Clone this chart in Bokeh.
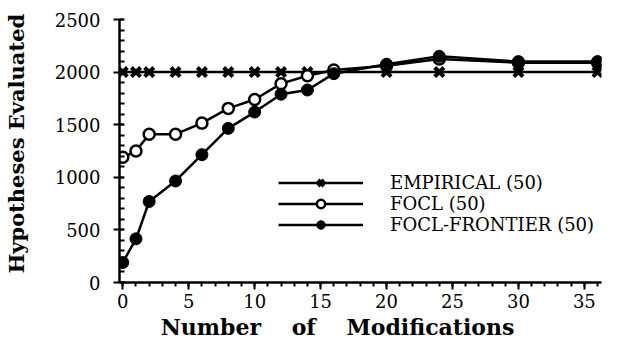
from bokeh.plotting import figure
from bokeh.models import Range1d, SingleIntervalTicker, Legend, LegendItem
from bokeh.embed import file_html
from bokeh.resources import INLINE

# data
emp_x = [0, 1, 2, 4, 6, 8, 10, 12, 14, 16, 20, 24, 30, 36]
emp_y = [2000, 2000, 2000, 2000, 2000, 2000, 2000, 2000, 2000, 2000, 2000, 2000, 2000, 2000]
focl_x = [0, 1, 2, 4, 6, 8, 10, 12, 14, 16, 20, 24, 30, 36]
focl_y = [1190, 1250, 1410, 1410, 1515, 1655, 1740, 1890, 1965, 2020, 2060, 2125, 2090, 2090]
fr_x = [0, 1, 2, 4, 6, 8, 10, 12, 14, 16, 20, 24, 30, 36]
fr_y = [190, 415, 770, 965, 1215, 1465, 1620, 1790, 1830, 1985, 2075, 2150, 2100, 2100]
labels = ["EMPIRICAL (50)", "FOCL (50)", "FOCL-FRONTIER (50)"]

SERIF = "DejaVu Serif"

p = figure(width=604, height=342, output_backend="svg", toolbar_location=None,
           x_range=Range1d(-0.25, 36.3), y_range=Range1d(0, 2500),
           min_border_left=119, min_border_right=3, min_border_top=19, min_border_bottom=59)
p.outline_line_color = None
p.grid.visible = False
p.background_fill_color = "white"
p.border_fill_color = "white"

p.xaxis.ticker = SingleIntervalTicker(interval=5, num_minor_ticks=5)
p.yaxis.ticker = SingleIntervalTicker(interval=500, num_minor_ticks=5)

for ax in (p.xaxis, p.yaxis):
    ax.axis_line_width = 2.5
    ax.axis_line_color = "black"
    ax.major_tick_line_width = 2
    ax.minor_tick_line_width = 2
    ax.major_tick_line_color = "black"
    ax.minor_tick_line_color = "black"
    ax.major_label_text_color = "black"
    ax.major_label_text_font = SERIF
    ax.major_label_text_font_size = "18px"
    ax.axis_label_text_font = SERIF
    ax.axis_label_text_font_style = "bold"
    ax.axis_label_text_color = "black"

p.xaxis.axis_label_text_font_size = "22px"
p.yaxis.axis_label_text_font_size = "21px"

p.xaxis.axis_label = "Number\u00a0\u00a0\u00a0 of\u00a0\u00a0\u00a0 Modifications\u00a0\u00a0\u00a0\u00a0\u00a0\u00a0"
p.yaxis.axis_label = "\u00a0\u00a0Hypotheses Evaluated"
p.xaxis.major_tick_out = 7
p.xaxis.major_tick_in = 0
p.xaxis.minor_tick_out = 4
p.xaxis.minor_tick_in = 0
p.xaxis.major_label_standoff = 4
p.xaxis.axis_label_standoff = 3
p.yaxis.major_tick_out = 6
p.yaxis.major_tick_in = 4
p.yaxis.minor_tick_out = 0
p.yaxis.minor_tick_in = 5
p.yaxis.major_label_standoff = 13
p.yaxis.axis_label_standoff = 23

l1 = p.line(emp_x, emp_y, line_color="black", line_width=2.5)
s1 = p.scatter(emp_x, emp_y, marker="x", size=13, line_color="black", line_width=4)
l2 = p.line(focl_x, focl_y, line_color="black", line_width=2.5)
s2 = p.scatter(focl_x, focl_y, marker="circle", size=11, line_color="black", line_width=2.5, fill_color="white")
l3 = p.line(fr_x, fr_y, line_color="black", line_width=2.5)
s3 = p.scatter(fr_x, fr_y, marker="circle", size=12, line_color="black", fill_color="black")

legend = Legend(items=[LegendItem(label=labels[0], renderers=[l1, s1]),
                       LegendItem(label=labels[1], renderers=[l2, s2]),
                       LegendItem(label=labels[2], renderers=[l3, s3])],
                location=(159, 47), glyph_width=85, glyph_height=21, label_height=21,
                label_standoff=27, spacing=0, padding=0, margin=0,
                border_line_color=None, background_fill_alpha=0,
                label_text_font=SERIF, label_text_font_size="18px", label_text_color="black")
p.add_layout(legend, "center")

open("out.html", "w").write(file_html(p, INLINE))
